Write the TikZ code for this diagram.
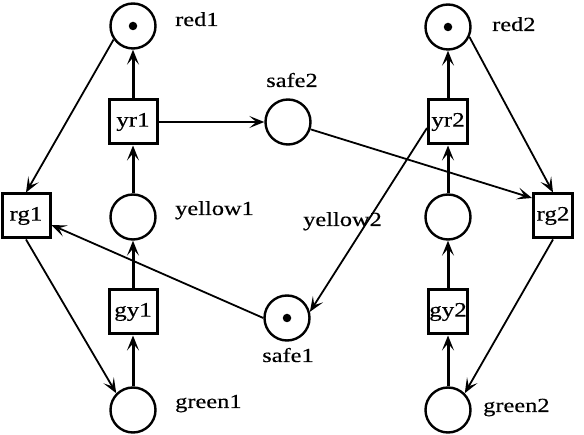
\documentclass[tikz,border=0pt]{standalone}
\usepackage{fontspec}
\setmainfont{Liberation Serif}[FakeStretch=1.22,FakeBold=0.4]
\usetikzlibrary{arrows.meta,calc}
\begin{document}
\begin{tikzpicture}[x=1pt,y=-1pt,
  place/.style={circle,draw,line width=2.4pt,minimum size=45pt,inner sep=0pt},
  trans/.style={rectangle,draw,line width=3pt,minimum height=44pt,inner sep=0pt,font=\fontsize{20.5}{24}\selectfont},
  wide/.style={trans,minimum width=48pt},
  narrow/.style={trans,minimum width=39pt},
  lab/.style={font=\fontsize{20}{24}\selectfont,inner sep=0pt},
  tok/.style={circle,fill,inner sep=0pt,minimum size=8.5pt},
  arc/.style={line width=1.8pt,-{Stealth[length=15pt,width=12pt,inset=7pt]}},
  varc/.style={arc,line width=3pt}]
\useasboundingbox (0,0) rectangle (584,435);
% left column
\node[place] (red1) at (133,26) {};
\node[tok] (tok1) at (red1) {};
\node[wide] (yr1) at (133,122) {yr1};
\node[place] (yellow1) at (133,217) {};
\node[wide] (gy1) at (133,312) {gy1};
\node[place] (green1) at (133,410) {};
\node[wide] (rg1) at (26,216) {rg1};
% middle
\node[place] (safe2) at (288,122) {};
\node[place] (safe1) at (287,318) {};
\node[tok] (tok3) at (safe1) {};
% right column
\node[place] (red2) at (448,27) {};
\node[tok] (tok2) at (red2) {};
\node[narrow] (yr2) at (448,122) {yr2};
\node[place] (yellow2) at (448,217) {};
\node[narrow] (gy2) at (448,312) {gy2};
\node[place] (green2) at (448,410) {};
\node[narrow] (rg2) at (553,216) {rg2};
% labels
\node[lab,anchor=base west] (lred1) at (175,26) {red1};
\node[lab,anchor=base] (lsafe2) at (292,87) {safe2};
\node[lab,anchor=base west] (lyellow1) at (175,215) {yellow1};
\node[lab,anchor=base west] (lyellow2) at (303,226) {yellow2};
\node[lab,anchor=base] (lsafe1) at (288,362) {safe1};
\node[lab,anchor=base west] (lgreen1) at (175,408) {green1};
\node[lab,anchor=base west] (lgreen2) at (483,412) {green2};
\node[lab,anchor=base west] (lred2) at (492,31) {red2};
% vertical arcs
\draw[varc] (yr1) -- (red1);
\draw[varc] (yellow1) -- (yr1);
\draw[varc] (gy1) -- (yellow1);
\draw[varc] (green1) -- (gy1);
\draw[varc] (yr2) -- (red2);
\draw[varc] (yellow2) -- (yr2);
\draw[varc] (gy2) -- (yellow2);
\draw[varc] (green2) -- (gy2);
% other arcs
\draw[arc] (yr1) -- (safe2);
\draw[arc] (red1.215) -- (rg1.north);
\draw[arc] (rg1.south) -- (green1.135);
\draw[arc] (safe1.west) -- ($(rg1.east)+(0,9)$);
\draw[arc] (safe2.342) -- ($(rg2.west)+(0,-18)$);
\draw[arc] ($(yr2.west)+(0,6)$) -- (safe1.15);
\draw[arc] (red2.335) -- (rg2.north);
\draw[arc] (rg2.south) -- (green2.45);
\end{tikzpicture}
\end{document}
